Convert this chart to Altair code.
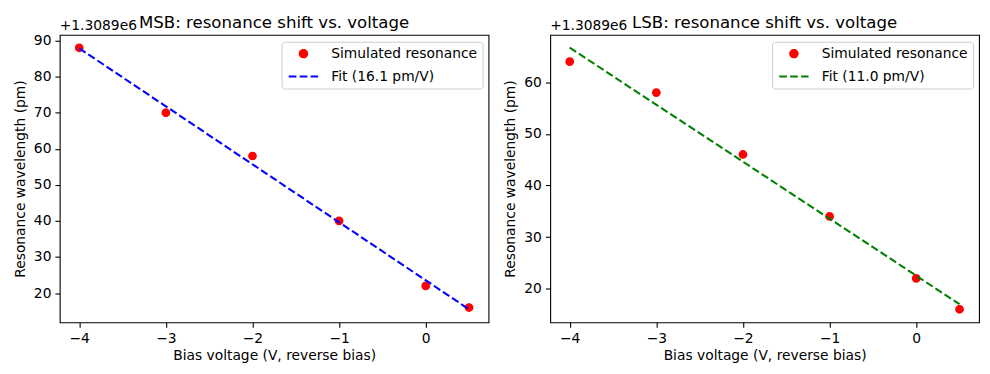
import altair as alt
import pandas as pd

# ---- data ----
voltage = [-4, -3, -2, -1, 0, 0.5]
msb_wl = [88, 70, 58, 40, 22, 16]
lsb_wl = [64, 58, 46, 34, 22, 16]
offset_label = "+1.3089e6"
titles = ["MSB: resonance shift vs. voltage", "LSB: resonance shift vs. voltage"]
point_label = "Simulated resonance"
fit_labels = ["Fit (16.1 pm/V)", "Fit (11.0 pm/V)"]
fit_colors = ["#0000ff", "#008000"]
x_ticks = [-4, -3, -2, -1, 0]
y_ticks_msb = [20, 30, 40, 50, 60, 70, 80, 90]
y_ticks_lsb = [20, 30, 40, 50, 60]
x_domain = [-4.225, 0.725]
y_domain_msb = [11.9, 91.6]
y_domain_lsb = [13.47, 69.2]

FONT = "DejaVu Sans"
FS = 13.9
LINE_SHAPE = "M-4,0L4,0"
W, H = 431, 289


def panel(wl, title, fit_label, fit_color, y_domain, y_ticks):
    df = pd.DataFrame({"voltage": voltage, "wl": wl, "series": point_label})
    domain = [point_label, fit_label]
    colors = ["#ff0000", fit_color]
    leg = alt.Legend(title=None)
    x = alt.X(
        "voltage:Q",
        scale=alt.Scale(domain=x_domain, nice=False, zero=False),
        axis=alt.Axis(values=x_ticks, format="d", title="Bias voltage (V, reverse bias)"),
    )
    y = alt.Y(
        "wl:Q",
        scale=alt.Scale(domain=y_domain, nice=False, zero=False),
        axis=alt.Axis(values=y_ticks, format="d", title="Resonance wavelength (pm)"),
    )
    base = alt.Chart(df)
    points = base.mark_point(filled=True, size=54.5, strokeWidth=1.39, opacity=1).encode(
        x=x,
        y=y,
        fill=alt.Fill("series:N", scale=alt.Scale(domain=domain, range=colors), legend=leg),
        stroke=alt.Stroke("series:N", scale=alt.Scale(domain=domain, range=colors), legend=leg),
        shape=alt.Shape("series:N", scale=alt.Scale(domain=domain, range=["circle", LINE_SHAPE]), legend=leg),
    )
    fit = (
        base.transform_regression("voltage", "wl", method="linear")
        .transform_calculate(series=f"'{fit_label}'")
        .mark_line(strokeWidth=2.08)
        .encode(
            x=x,
            y=y,
            stroke=alt.Stroke("series:N", scale=alt.Scale(domain=domain, range=colors), legend=leg),
            strokeDash=alt.StrokeDash(
                "series:N",
                scale=alt.Scale(domain=domain, range=[[1, 0], [7.7, 3.3]]),
                legend=leg,
            ),
        )
    )
    off = alt.Chart(pd.DataFrame({"t": [offset_label]})).mark_text(
        align="left", baseline="alphabetic", font=FONT, fontSize=FS, color="black"
    ).encode(x=alt.value(0), y=alt.value(-5), text="t:N")
    ttl = alt.Chart(pd.DataFrame({"t": [title]})).mark_text(
        align="center", baseline="alphabetic", font=FONT, fontSize=16.67, color="black"
    ).encode(x=alt.value(W / 2), y=alt.value(-7), text="t:N")
    return alt.layer(points, fit, off, ttl).properties(width=W, height=H)


left = panel(msb_wl, titles[0], fit_labels[0], fit_colors[0], y_domain_msb, y_ticks_msb)
right = panel(lsb_wl, titles[1], fit_labels[1], fit_colors[1], y_domain_lsb, y_ticks_lsb)

chart = (
    alt.hconcat(left, right, spacing=13)
    .resolve_scale(fill="independent", stroke="independent", shape="independent", strokeDash="independent", x="independent", y="independent")
    .properties(padding={"left": 4, "top": 5, "right": 2, "bottom": 5})
    .configure_view(stroke="black", strokeWidth=1.1)
    .configure_axis(
        labelFont=FONT, labelFontSize=FS, labelColor="black",
        titleFont=FONT, titleFontSize=FS, titleColor="black", titleFontWeight="normal",
        tickColor="black", tickSize=4.86, tickWidth=1.1, labelPadding=4.0,
        domain=False, grid=False,
    )
    .configure_axisY(titlePadding=6)
    .configure_axisX(titlePadding=4)
    .configure_legend(
        orient="top-right", offset=6.5, padding=5, rowPadding=7,
        labelFont=FONT, labelFontSize=FS, labelColor="black",
        strokeColor="#cccccc", fillColor="rgba(255,255,255,0.8)", cornerRadius=3,
        symbolStrokeWidth=2.08, symbolSize=54.5, symbolOffset=10, labelOffset=21,
    )
)

chart.save("out.html", embed_options={"renderer": "svg", "actions": False})
